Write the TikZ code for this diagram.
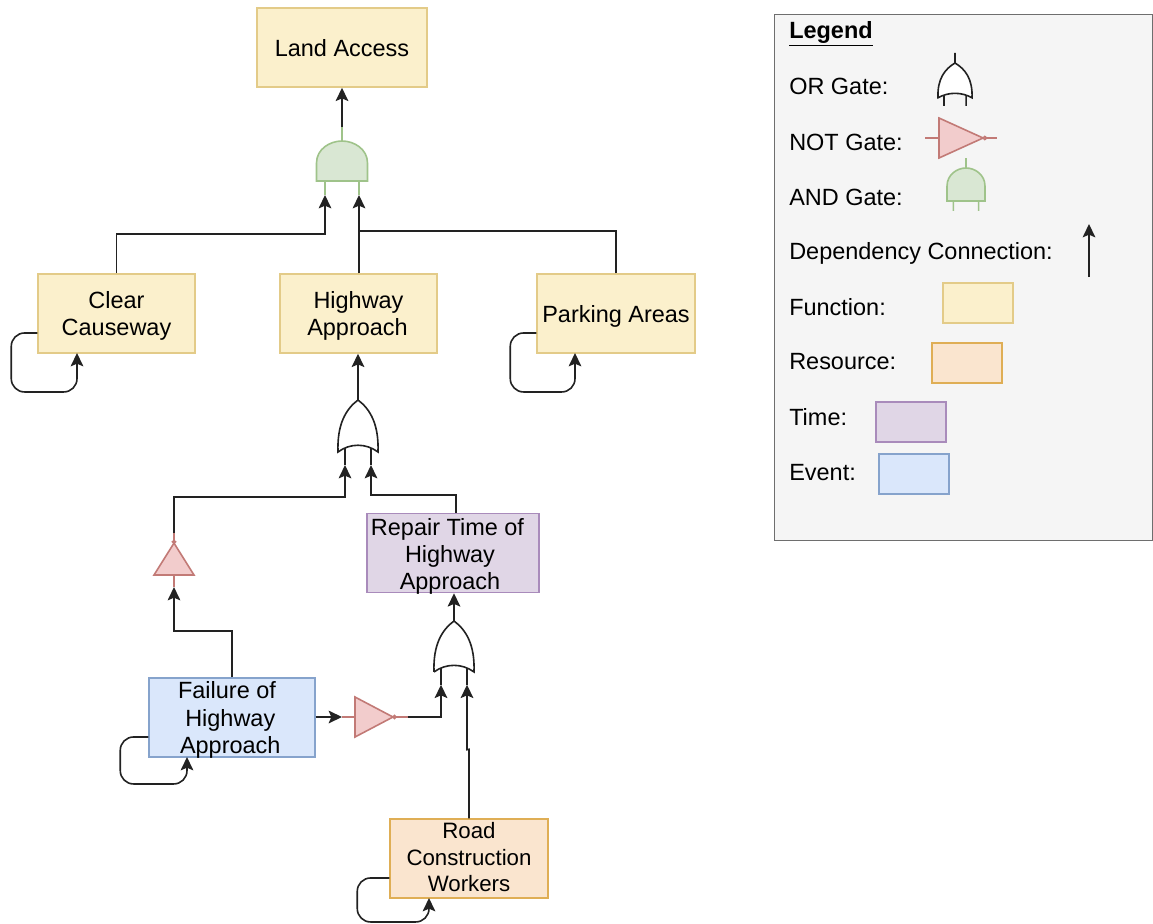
\documentclass[tikz,border=0pt]{standalone}
\usepackage{fontspec}
\setmainfont{Liberation Sans}
\usetikzlibrary{arrows.meta,calc}
\definecolor{fnfill}{HTML}{FBF0CC}\definecolor{fnline}{HTML}{E3CB88}
\definecolor{resfill}{HTML}{FAE5CF}\definecolor{resline}{HTML}{DFAE55}
\definecolor{timefill}{HTML}{E0D6E6}\definecolor{timeline}{HTML}{A98BBB}
\definecolor{evfill}{HTML}{DAE7FB}\definecolor{evline}{HTML}{86A3CC}
\definecolor{andfill}{HTML}{D9E7D3}\definecolor{andline}{HTML}{9FC38A}
\definecolor{notfill}{HTML}{F2CCCC}\definecolor{notline}{HTML}{C27A76}
\definecolor{legfill}{HTML}{F5F5F5}\definecolor{legline}{HTML}{6E6E6E}
\definecolor{ink}{HTML}{222222}
\tikzset{
  x=0.75pt,y=-0.75pt,
  txt/.style={font=\fontsize{17.6pt}{20.5pt}\selectfont,text=black},
  boxbase/.style={txt,draw,line width=1.1pt,align=center,inner sep=0pt,minimum height=59.25pt},
  fnbox/.style={boxbase,fill=fnfill,draw=fnline},
  resbox/.style={boxbase,fill=resfill,draw=resline},
  timebox/.style={boxbase,fill=timefill,draw=timeline},
  evbox/.style={boxbase,fill=evfill,draw=evline},
  swatch/.style={draw,line width=1.1pt,minimum width=52.5pt,minimum height=30pt,inner sep=0pt},
  leglabel/.style={txt,anchor=west,inner sep=0pt},
  conn/.style={draw=ink,line width=1.2pt,-{Stealth[length=10pt,width=9.5pt,inset=2pt]}},
  loopconn/.style={conn,rounded corners=10pt},
  orshape/.style={draw=ink,line width=1.2pt,fill=white},
  orstub/.style={draw=ink,line width=1.2pt},
  andshape/.style={draw=andline,line width=1.2pt,fill=andfill},
  andstub/.style={draw=andline,line width=1.2pt},
  notshape/.style={draw=notline,line width=1.2pt,fill=notfill},
  notstub/.style={draw=notline,line width=1.2pt},
}
% vertical offset of a centred block of lines, leaving the node size alone
\newcommand{\movedlines}[2]{\raisebox{\dimexpr#1-\fontdimen22\textfont2\relax}[0pt][0pt]{\begin{tabular}[c]{@{}c@{}}#2\end{tabular}}}
% name, tip x, tip y, xscale, yscale, output stub, input stub bottom
\newcommand{\orgate}[7]{\begin{scope}[shift={(#2,#3)},xscale=#4,yscale=#5]
  \coordinate (#1-o) at (0,-#6);
  \coordinate (#1-a) at (-13,#7);
  \coordinate (#1-b) at (13,#7);
  \draw[orstub] (#1-a) -- (-13,47) (#1-b) -- (13,47) (0,0) -- (#1-o);
  \draw[orshape] (-20,52) .. controls (-21,24) and (-12,9) .. (0,0) .. controls (12,9) and (21,24) .. (20,52) .. controls (8,43) and (-8,43) .. cycle;
\end{scope}}
% name, top x, top y, xscale, yscale, output stub, input stub bottom
\newcommand{\andgate}[7]{\begin{scope}[shift={(#2,#3)},xscale=#4,yscale=#5]
  \coordinate (#1-o) at (0,-#6);
  \coordinate (#1-a) at (-17,#7);
  \coordinate (#1-b) at (17,#7);
  \draw[andstub] (#1-a) -- (-17,40) (#1-b) -- (17,40) (0,0) -- (#1-o);
  \draw[andshape] (-25.5,40) -- (-25.5,22) .. controls (-25.5,8) and (-12,0) .. (0,0) .. controls (12,0) and (25.5,8) .. (25.5,22) -- (25.5,40) -- cycle;
\end{scope}}
% name, base x, base y, rotation, length scale, input stub, output stub
\newcommand{\notgate}[7]{\begin{scope}[shift={(#2,#3)},rotate=#4,xscale=#5]
  \coordinate (#1-i) at (-#6,0);
  \coordinate (#1-o) at (#7,0);
  \draw[notstub] (#1-i) -- (#1-o);
  \draw[notshape] (0,-20) -- (38,0) -- (0,20) -- cycle;
  \draw[notshape] (39.5,0) circle [x radius=1.5, y radius=1.5];
\end{scope}}
\begin{document}
\begin{tikzpicture}
\path[use as bounding box] (0,0) rectangle (1153,924);
% legend
\node[draw=legline,fill=legfill,line width=1.1pt,anchor=north west,minimum width=283.5pt,minimum height=394.5pt,inner sep=0pt] (legend) at (774,14) {};
\node[leglabel,font=\fontsize{17.6pt}{20pt}\selectfont\bfseries] (ltitle) at (789,34) {\underline{Legend}};
\node[leglabel] (lor) at (789,86) {OR Gate:};
\node[leglabel] (lnot) at (789,142) {NOT Gate:};
\node[leglabel] (lgand) at (789,197) {AND Gate:};
\node[leglabel] (ldep) at (789,253.5) {Dependency Connection:};
\node[leglabel] (lfun) at (789,307) {Function:};
\node[leglabel] (lres) at (789,362) {Resource:};
\node[leglabel] (ltim) at (789,417) {Time:};
\node[leglabel] (levt) at (789,473) {Event:};
\orgate{lgor}{955}{63}{.85}{.67}{15}{64}
\notgate{lgnot}{939}{138}{0}{1.16}{12}{50}
\andgate{lgand}{966}{168}{.745}{.825}{12}{52}
\coordinate (depa) at (1089,277);
\coordinate (depb) at (1089,224);
\draw[conn] (depa) -- (depb);
\node[swatch,fill=fnfill,draw=fnline] (sfun) at (978,303) {};
\node[swatch,fill=resfill,draw=resline] (sres) at (967,363) {};
\node[swatch,fill=timefill,draw=timeline] (stim) at (911,422) {};
\node[swatch,fill=evfill,draw=evline] (sevt) at (914,474) {};
% boxes
\node[fnbox,minimum width=127.5pt] (land) at (342,47.5) {\movedlines{-3pt}{Land Access}};
\node[fnbox,minimum width=117.75pt] (clear) at (116.5,313.5) {\movedlines{-2.5pt}{Clear\\Causeway}};
\node[fnbox,minimum width=117.75pt] (high) at (358.5,313.5) {\movedlines{-2.5pt}{Highway\\Approach\kern1.5pt}};
\node[fnbox,minimum width=118.5pt] (park) at (616,313.5) {\movedlines{-2.75pt}{Parking Areas}};
\node[timebox,minimum width=129pt] (repair) at (453,553) {\movedlines{-3pt}{Repair Time of\kern8.25pt\\Highway\kern4.5pt\\Approach\kern4.5pt}};
\node[evbox,minimum width=124.5pt] (fail) at (232,717.5) {\movedlines{-2.3pt}{Failure of\kern7.5pt\\Highway\kern2.6pt\\Approach\kern2.6pt}};
\node[resbox,minimum width=118.5pt,font=\fontsize{16.7pt}{19.8pt}\selectfont] (road) at (469,858.5) {\movedlines{-1.1pt}{Road\\Construction\\Workers}};
% gates
\andgate{gand}{342}{141}{1}{1}{14}{54}
\orgate{gor}{358}{400}{1}{1}{10}{65}
\orgate{gortwo}{454}{621}{1}{.98}{11}{65}
\notgate{gnotu}{174}{575}{90}{.84}{14.3}{50}
\notgate{gnotr}{355}{717}{0}{1}{13}{53}
% connectors
\draw[conn] (gand-o) -- (gand-o |- land.south);
\draw[conn] (clear.north) |- ($(gand-a)+(0,39)$) -- (gand-a);
\draw[conn] (gand-b |- high.north) -- (gand-b);
\draw[draw=ink,line width=1.2pt] (park.north) |- ($(gand-b)+(0,36)$);
\draw[conn] (gor-o) -- (gor-o |- high.south);
\draw[conn] ([xshift=2.25pt]repair.north) |- ($(gor-b)+(0,30)$) -- (gor-b);
\draw[conn] (gnotu-o) |- ($(gor-a)+(0,32)$) -- (gor-a);
\draw[conn] (fail.north) |- ($(gnotu-i)+(0,44)$) -- (gnotu-i);
\draw[conn] (fail.east |- gnotr-i) -- (gnotr-i);
\draw[conn] (gnotr-o) -| (gortwo-a);
\draw[conn] (gortwo-o) -- (gortwo-o |- repair.south);
\draw[conn] (road.north) -- ($(road.north)+(0,-69)$) -- ($(gortwo-b)+(0,65)$) -- (gortwo-b);
\draw[loopconn] ([yshift=-14.6pt]clear.west) -- ++(-26,0) -- ++(0,59) -| (77,353);
\draw[loopconn] ([yshift=-14.6pt]park.west) -- ++(-26,0) -- ++(0,59) -| (575,353);
\draw[loopconn] ([yshift=-14.6pt]fail.west) -- ++(-28,0) -- ++(0,47) -| (187,757);
\draw[loopconn] ([yshift=-14.6pt]road.west) -- ++(-32,0) -- ++(0,44) -| (429,898);
\end{tikzpicture}
\end{document}
